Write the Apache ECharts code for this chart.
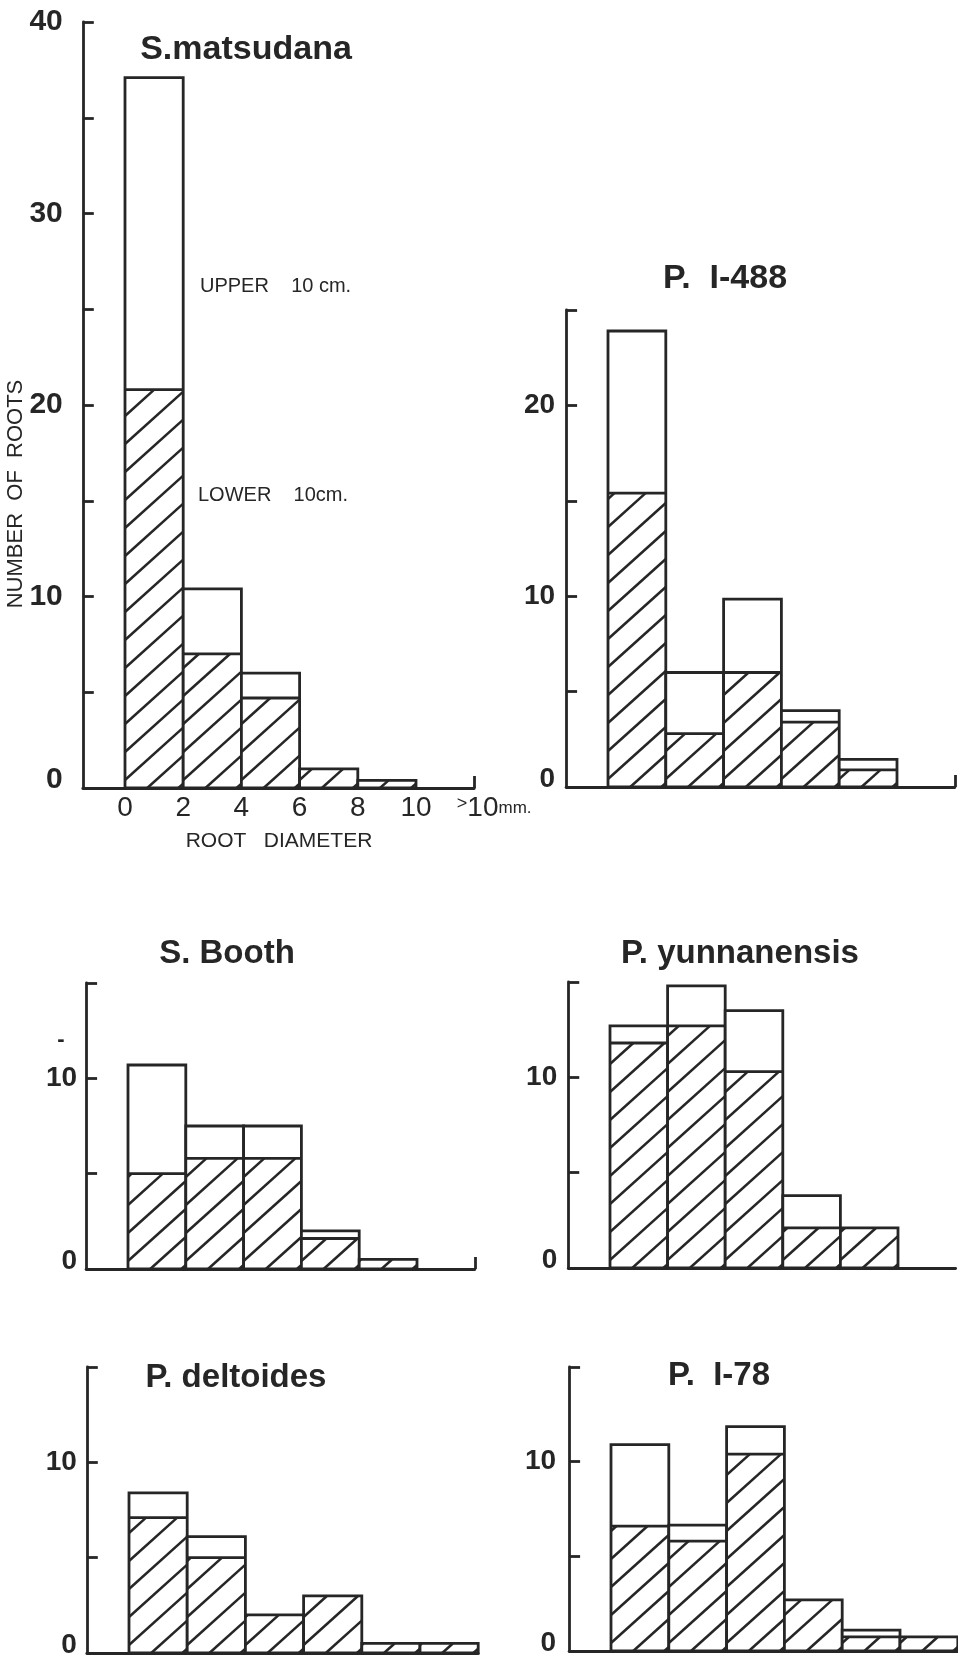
<!DOCTYPE html>
<html>
<head>
<meta charset="utf-8">
<script src="https://cdn.jsdelivr.net/npm/echarts@6/dist/echarts.min.js"></script>
<style>
html,body{margin:0;padding:0;background:#ffffff;}
#chart{width:958px;height:1662px;}
</style>
</head>
<body>
<div id="chart"></div>
<script>
// ---- data ----
const binEdges = [0, 2, 4, 6, 8, 10, 12];          // root diameter classes, mm (last = ">10")
const xTickValues = [0, 2, 4, 6, 8, 10, 12];
const xTickLabels = ['0', '2', '4', '6', '8', '10', '>10mm.'];
const titles = ['S.matsudana', 'P.  I-488', 'S. Booth', 'P. yunnanensis', 'P. deltoides', 'P.  I-78'];
const yMaxima = [40, 25, 15, 15, 15, 15];

// number of roots, lower 10 cm (hatched) and upper 10 cm (open, stacked on top)
const matsudanaLower    = [20.8, 7.0, 4.7, 1.0, 0.4, 0];
const matsudanaUpper    = [16.3, 3.4, 1.3, 0, 0, 0];
const i488Lower         = [15.4, 2.8, 6.0, 3.4, 0.9, 0];
const i488Upper         = [8.5, 3.2, 3.85, 0.6, 0.55, 0];
const boothLower        = [5.0, 5.8, 5.8, 1.6, 0.5, 0];
const boothUpper        = [5.7, 1.7, 1.7, 0.4, 0, 0];
const yunnanensisLower  = [11.8, 12.7, 10.3, 2.1, 2.1, 0];
const yunnanensisUpper  = [0.9, 2.1, 3.2, 1.7, 0, 0];
const deltoidesLower    = [7.1, 5.0, 2.0, 3.0, 0.5, 0.5];
const deltoidesUpper    = [1.3, 1.1, 0, 0, 0, 0];
const i78Lower          = [6.6, 5.8, 10.4, 2.7, 0.75, 0.75];
const i78Upper          = [4.3, 0.85, 1.45, 0, 0.35, 0];

const lowers = [matsudanaLower, i488Lower, boothLower, yunnanensisLower, deltoidesLower, i78Lower];
const uppers = [matsudanaUpper, i488Upper, boothUpper, yunnanensisUpper, deltoidesUpper, i78Upper];

// ---- layout / style ----
const C = '#262626';
const FONT = '"Liberation Sans", Arial, Helvetica, sans-serif';
const XMIN = -1.45, XMAX = 12;
const LW = 2.8;
const layout = [
  {x0:125, u:29.1, yTop:22,   yBottom:788,  endTick:true,  margin:20, lsize:30, tx:246, ty:50,   tsize:34},
  {x0:608, u:28.9, yTop:310,  yBottom:787,  endTick:true,  margin:11, lsize:28, tx:725, ty:279,  tsize:34},
  {x0:128, u:28.9, yTop:983,  yBottom:1269, endTick:true,  margin:9,  lsize:28, tx:227, ty:954,  tsize:33},
  {x0:610, u:28.8, yTop:982,  yBottom:1268, endTick:false, margin:11, lsize:28, tx:740, ty:954,  tsize:33},
  {x0:129, u:29.1, yTop:1367, yBottom:1653, endTick:false, margin:10, lsize:28, tx:236, ty:1378, tsize:33},
  {x0:611, u:28.9, yTop:1367, yBottom:1651, endTick:false, margin:13, lsize:28, tx:719, ty:1376, tsize:33}
];

function renderHist(params, api) {
  const a = api.value(0), b = api.value(1), lo = api.value(2), up = api.value(3);
  if (lo + up <= 0) return null;
  const pBL = api.coord([a, 0]);
  const pTR = api.coord([b, lo + up]);
  const pMid = api.coord([b, lo]);
  const left = pBL[0], right = pTR[0], bottom = pBL[1], top = pTR[1], mid = pMid[1];
  const children = [];
  children.push({type:'rect', shape:{x:left, y:top, width:right-left, height:bottom-top},
    style:{fill:'#ffffff', stroke:null}});
  if (lo > 0) {
    const s = 0.9, sp = 28;
    const base = bottom + s * left - 8;
    const cMin = mid + s * left, cMax = bottom + s * right;
    const k0 = Math.ceil((cMin - base) / sp), k1 = Math.floor((cMax - base) / sp);
    for (let k = k0; k <= k1; k++) {
      const c = base + k * sp;
      const xa = Math.max(left, (c - bottom) / s);
      const xb = Math.min(right, (c - mid) / s);
      if (xb > xa + 0.5) {
        children.push({type:'line', shape:{x1:xa, y1:c - s*xa, x2:xb, y2:c - s*xb},
          style:{stroke:C, lineWidth:2.5}});
      }
    }
    if (up > 0) {
      children.push({type:'line', shape:{x1:left, y1:mid, x2:right, y2:mid},
        style:{stroke:C, lineWidth:LW}});
    }
  }
  children.push({type:'rect', shape:{x:left, y:top, width:right-left, height:bottom-top},
    style:{fill:null, stroke:C, lineWidth:LW}});
  return {type:'group', children};
}

const grids = [], xAxes = [], yAxes = [], series = [], graphics = [];
layout.forEach((L, i) => {
  grids.push({left: L.x0 + XMIN * L.u, top: L.yTop, width: (XMAX - XMIN) * L.u,
    height: L.yBottom - L.yTop, containLabel:false, outerBoundsMode:'none'});
  const xa = {gridIndex:i, type:'value', min:XMIN, max:XMAX,
    axisLine:{show:true, onZero:false, lineStyle:{color:C, width:LW}},
    axisTick:{show:L.endTick, inside:true, length:12, customValues:[12], lineStyle:{color:C, width:LW}},
    splitLine:{show:false},
    axisLabel:{show:false}};
  if (i === 0) {
    xa.axisLabel = {show:true, customValues:xTickValues, showMaxLabel:true, showMinLabel:true,
      margin:6, color:C, fontSize:28, fontFamily:FONT,
      formatter: function (v) {
        const idx = xTickValues.indexOf(v);
        const t = idx >= 0 ? xTickLabels[idx] : '';
        if (t.charAt(0) === '>') return '{g|>}{b|' + t.slice(1, 3) + '}{m|' + t.slice(3) + '}';
        return t;
      },
      rich:{
        g:{fontSize:18, fontFamily:FONT, color:C, padding:[0,0,8,40]},
        b:{fontSize:28, fontFamily:FONT, color:C},
        m:{fontSize:17, fontFamily:FONT, color:C}
      }};
  }
  xAxes.push(xa);
  yAxes.push({gridIndex:i, type:'value', min:0, max:yMaxima[i], interval:5,
    axisLine:{show:true, onZero:false, lineStyle:{color:C, width:LW}},
    axisTick:{show:true, inside:true, length:11, lineStyle:{color:C, width:LW}},
    splitLine:{show:false},
    axisLabel:{show:true, margin:L.margin, color:C, fontSize:L.lsize, fontWeight:'bold', fontFamily:FONT,
      formatter: function (v) { return v % 10 === 0 ? (v === 0 ? '{z|0}' : String(v)) : ''; },
      rich:{z:{fontSize:L.lsize, fontWeight:'bold', fontFamily:FONT, color:C, padding:[0,0,16,0]}}}});
  const data = lowers[i].map((lo, j) => [binEdges[j], binEdges[j+1], lo, uppers[i][j]]);
  series.push({type:'custom', xAxisIndex:i, yAxisIndex:i, renderItem:renderHist, data:data,
    encode:{x:[0,1], y:[2,3]}, silent:true, animation:false});
  graphics.push({type:'text', x:L.tx, y:L.ty, style:{text:titles[i], fill:C,
    font:'bold ' + L.tsize + 'px ' + FONT, align:'center', verticalAlign:'middle',
    textAlign:'center', textVerticalAlign:'middle'}});
});

graphics.push({type:'text', x:200, y:286, style:{text:'UPPER    10 cm.', fill:C,
  font:'20px ' + FONT, align:'left', verticalAlign:'middle', textAlign:'left', textVerticalAlign:'middle'}});
graphics.push({type:'text', x:198, y:495, style:{text:'LOWER    10cm.', fill:C,
  font:'20px ' + FONT, align:'left', verticalAlign:'middle', textAlign:'left', textVerticalAlign:'middle'}});
graphics.push({type:'text', x:16, y:494, rotation:Math.PI/2, style:{text:'NUMBER  OF  ROOTS', fill:C,
  font:'22px ' + FONT, align:'center', verticalAlign:'middle', textAlign:'center', textVerticalAlign:'middle'}});
graphics.push({type:'text', x:279, y:841, style:{text:'ROOT   DIAMETER', fill:C,
  font:'21px ' + FONT, align:'center', verticalAlign:'middle', textAlign:'center', textVerticalAlign:'middle'}});
graphics.push({type:'text', x:61, y:1040, style:{text:'-', fill:C,
  font:'bold 22px ' + FONT, align:'center', verticalAlign:'middle', textAlign:'center', textVerticalAlign:'middle'}});

const chart = echarts.init(document.getElementById('chart'), null, {renderer:'canvas'});
chart.setOption({
  backgroundColor:'#ffffff',
  animation:false,
  grid:grids, xAxis:xAxes, yAxis:yAxes, series:series,
  graphic:{elements:graphics}
});
</script>
</body>
</html>
